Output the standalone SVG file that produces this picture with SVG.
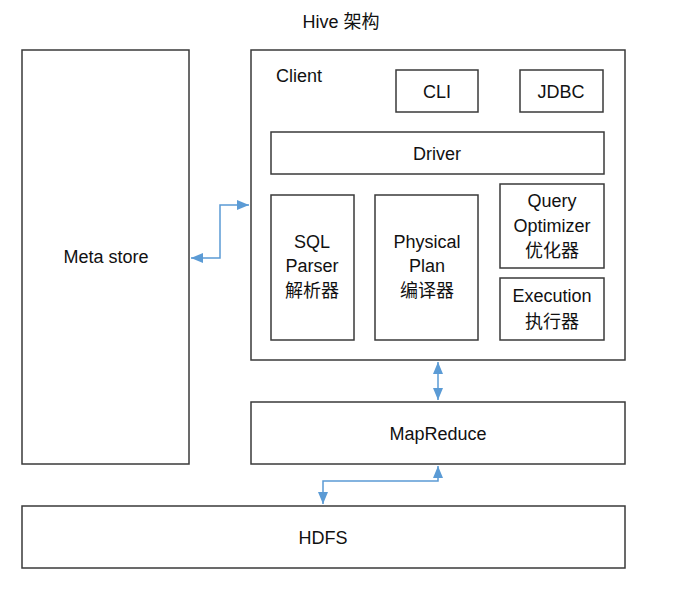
<svg xmlns="http://www.w3.org/2000/svg" width="678" height="596" viewBox="0 0 678 596">
<defs>
<style>
.box{fill:#fff;stroke:#3a3a3a;stroke-width:1.5}
.t{font-family:"Liberation Sans","Noto Sans CJK SC",sans-serif;font-size:18px;fill:#111;text-anchor:middle}
.c{fill:none;stroke:#5b9bd5;stroke-width:1.5}
</style>
<marker id="ah" viewBox="0 0 12 10" refX="12" refY="5" markerWidth="12" markerHeight="10" orient="auto-start-reverse" markerUnits="userSpaceOnUse">
<path d="M0,0 L12,5 L0,10 z" fill="#5b9bd5"/>
</marker>
</defs>
<rect width="678" height="596" fill="#fff"/>
<text class="t" x="341" y="28">Hive 架构</text>
<g id="metastore"><rect class="box" x="22" y="50" width="167" height="414"/><text class="t" x="106" y="263">Meta store</text></g>
<g id="client"><rect class="box" x="251" y="50" width="374" height="310"/><text class="t" x="276" y="82" style="text-anchor:start">Client</text></g>
<g id="cli"><rect class="box" x="396" y="70" width="82" height="42"/><text class="t" x="437" y="98">CLI</text></g>
<g id="jdbc"><rect class="box" x="520" y="70" width="83" height="42"/><text class="t" x="561" y="98">JDBC</text></g>
<g id="driver"><rect class="box" x="271" y="132" width="333" height="42"/><text class="t" x="437" y="160">Driver</text></g>
<g id="sqlparser"><rect class="box" x="271" y="195" width="83" height="145"/><text class="t" x="312" y="248">SQL</text><text class="t" x="312" y="272">Parser</text><text class="t" x="312" y="297">解析器</text></g>
<g id="physicalplan"><rect class="box" x="375" y="195" width="103" height="145"/><text class="t" x="427" y="248">Physical</text><text class="t" x="427" y="272">Plan</text><text class="t" x="427" y="297">编译器</text></g>
<g id="optimizer"><rect class="box" x="500" y="184" width="104" height="84"/><text class="t" x="552" y="207">Query</text><text class="t" x="552" y="232">Optimizer</text><text class="t" x="552" y="257">优化器</text></g>
<g id="execution"><rect class="box" x="500" y="278" width="104" height="62"/><text class="t" x="552" y="302">Execution</text><text class="t" x="552" y="328">执行器</text></g>
<g id="mapreduce"><rect class="box" x="251" y="402" width="374" height="62"/><text class="t" x="438" y="440">MapReduce</text></g>
<g id="hdfs"><rect class="box" x="22" y="506" width="603" height="62"/><text class="t" x="323" y="544">HDFS</text></g>
<g id="connectors">
<polyline class="c" points="191,258 220,258 220,205 249,205" marker-start="url(#ah)" marker-end="url(#ah)"/>
<line class="c" x1="438" y1="362" x2="438" y2="400" marker-start="url(#ah)" marker-end="url(#ah)"/>
<polyline class="c" points="438,466 438,481 323,481 323,504" marker-start="url(#ah)" marker-end="url(#ah)"/>
</g>
</svg>
